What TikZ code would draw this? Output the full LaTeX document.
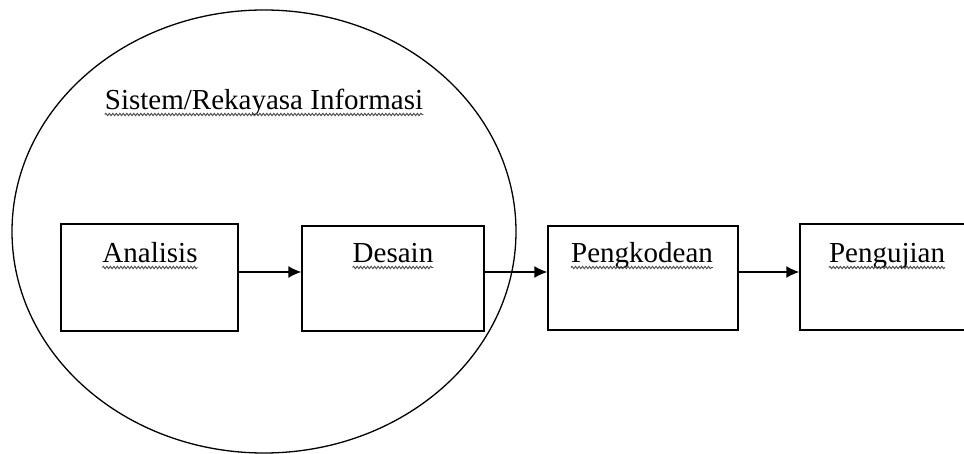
\documentclass[tikz,border=0pt]{standalone}
\usepackage{fontspec}
\setmainfont{Liberation Serif}
\usetikzlibrary{shapes.geometric,arrows.meta,decorations.pathmorphing}
\tikzset{
  stagebox/.style={draw=black, line width=1.4pt, rectangle, inner sep=0pt},
  lbl/.style={font=\fontsize{29}{32}\selectfont, inner sep=0pt, anchor=base},
  arr/.style={draw=black, line width=1.4pt, -{Latex[length=13pt,width=12pt]}},
  squiggle/.style={draw=black!70, line width=0.9pt, decorate,
     decoration={snake, amplitude=1.2pt, segment length=3.5pt}},
}
\newcommand{\wavy}[1]{\draw[squiggle] ([yshift=-4.5pt]#1.base west) -- ([yshift=-4.5pt]#1.base east);}
\begin{document}
\begin{tikzpicture}[x=1pt,y=-1pt]
\useasboundingbox (0,0) rectangle (964,454);
\clip (0,0) rectangle (964,454);
\fill[white] (0,0) rectangle (964,454);

% system ellipse
\node[draw=black, line width=1.3pt, ellipse, inner sep=0pt,
      minimum width=504pt, minimum height=443pt] (sys) at (264,231.5) {};
\node[lbl] (title) at (264,110) {Sistem/Rekayasa Informasi};
\wavy{title}

% stage boxes
\node[stagebox, minimum width=177pt, minimum height=107pt] (an) at (149.5,277.5) {};
\node[stagebox, minimum width=182pt, minimum height=105pt] (de) at (393,278.5) {};
\node[stagebox, minimum width=190pt, minimum height=104pt] (pk) at (643,278) {};
\node[stagebox, minimum width=176pt, minimum height=106pt] (pu) at (888,277) {};

% labels
\node[lbl] (tan) at (150,263) {Analisis};
\node[lbl] (tde) at (393,263) {Desain};
\node[lbl] (tpk) at (642,263) {Pengkodean};
\node[lbl] (tpu) at (887,263) {Pengujian};
\wavy{tan}
\wavy{tde}
\wavy{tpk}
\wavy{tpu}

% arrows
\coordinate (ay) at (0,272);
\draw[arr] (an.east |- ay) -- (de.west |- ay);
\draw[arr] (de.east |- ay) -- (pk.west |- ay);
\draw[arr] (pk.east |- ay) -- (pu.west |- ay);
\end{tikzpicture}
\end{document}
